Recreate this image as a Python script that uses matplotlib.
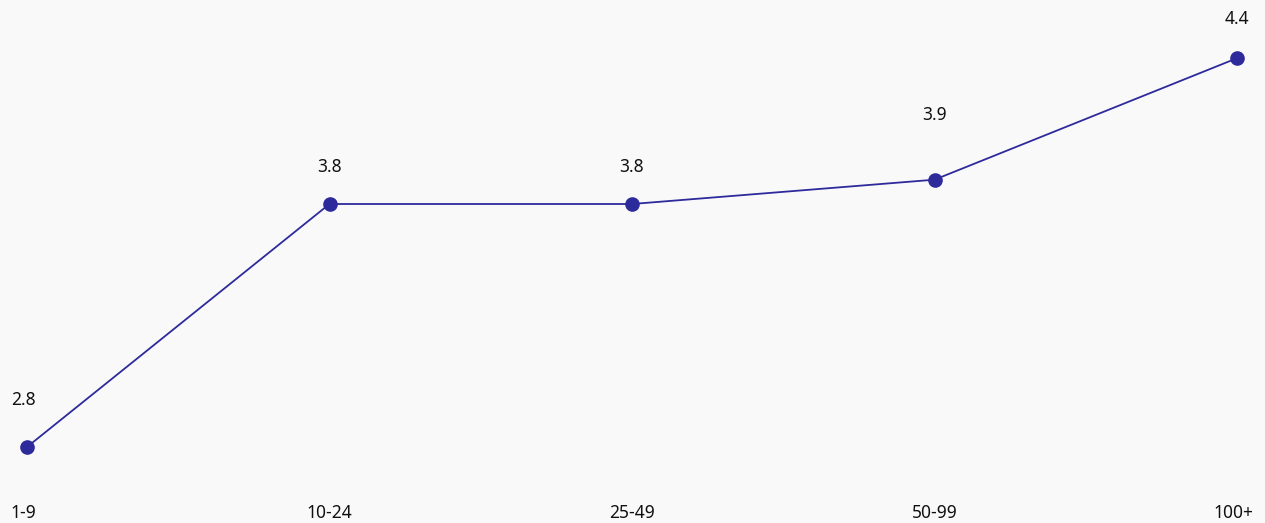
import matplotlib.pyplot as plt
import matplotlib.transforms as mtransforms

# size bands and average score
categories = ["1-9", "10-24", "25-49", "50-99", "100+"]
values = [2.8, 3.8, 3.8, 3.9, 4.4]
label_offsets = [47, 37, 37, 65, 39]  # px above point where value text sits

plt.rcParams['font.family'] = ['Noto Sans', 'DejaVu Sans']
bg = "#f9f9f9"
line_color = "#2d2a9b"

fig = plt.figure(figsize=(12.65, 5.23), dpi=100, facecolor=bg)
ax = fig.add_axes([0, 0, 1, 1])
ax.set_facecolor(bg)

xs = list(range(len(categories)))
ax.plot(xs, values, color=line_color, lw=1.3, marker="o", ms=9.5,
        markerfacecolor=line_color, markeredgecolor=line_color)

# map data to pixel layout of the original
x0 = -27 / 302.5
ax.set_xlim(x0, 4 + 28 / 302.5)
ax.set_ylim(2.8 - 76 / 243, 2.8 + 447 / 243)

for x, v, off in zip(xs, values, label_offsets):
    ax.annotate(f"{v:.1f}", (x, v), xytext=(-4 if x == 0 else 0, off),
                textcoords="offset pixels", ha="center", va="center",
                fontsize=12.5, color="#111111")

trans = mtransforms.blended_transform_factory(ax.transData, ax.transAxes)
for x, cat in zip(xs, categories):
    ha = "center"
    xx = x
    if x == 0:
        ha = "left"
        xx = x0 + 10 / 302.5
    elif x == len(categories) - 1:
        ha = "right"
        xx = 4 + 16 / 302.5
    ax.text(xx, 10 / 523, cat, transform=trans, ha=ha, va="center",
            fontsize=12.5, color="#111111")

ax.axis("off")
fig.savefig("out.png", dpi=100, facecolor=bg)
